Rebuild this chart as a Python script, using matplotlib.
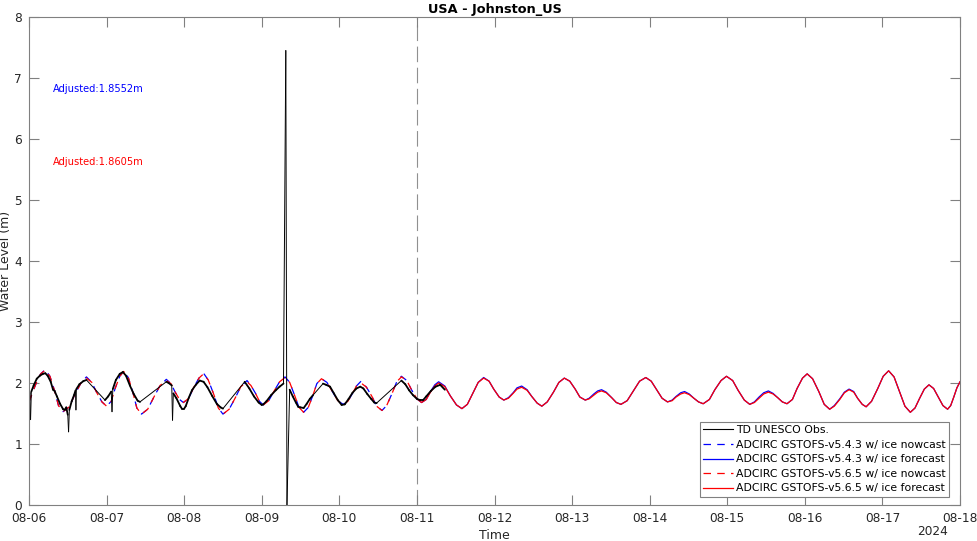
import numpy as np
import matplotlib.pyplot as plt
import matplotlib.dates as mdates

# days since 2024-08-06 00:00
start = np.datetime64("2024-08-06T00:00")

# TD UNESCO observations
obs_t = [0.00, 0.01, 0.02, 0.03, 0.06, 0.10, 0.14, 0.18, 0.21, 0.24,
         0.28, 0.31, 0.33, 0.36, 0.40, 0.44, 0.46, 0.48, 0.50, 0.51,
         0.52, 0.55, 0.58, 0.60, 0.605, 0.61, 0.65, 0.70, 0.74, 0.98,
         1.02, 1.06, 1.07, 1.08, 1.12, 1.17, 1.21, 1.25, 1.30, 1.35,
         1.40, 1.43, 1.77, 1.80, 1.84, 1.85, 1.86, 1.90, 1.95, 1.97,
         2.00, 2.02, 2.06, 2.10, 2.15, 2.20, 2.25, 2.30, 2.36, 2.42,
         2.47, 2.50, 2.78, 2.84, 2.90, 2.96, 3.00, 3.02, 3.06, 3.12,
         3.18, 3.23, 3.28, 3.31, 3.325, 3.36, 3.40, 3.44, 3.47, 3.50,
         3.54, 3.58, 3.62, 3.66, 3.79, 3.83, 3.88, 3.93, 3.98, 4.03,
         4.07, 4.12, 4.17, 4.22, 4.27, 4.31, 4.36, 4.41, 4.45, 4.48,
         4.80, 4.85, 4.90, 4.95, 5.00, 5.04, 5.08, 5.12, 5.18, 5.24,
         5.30, 5.36]
obs_v = [1.72, 1.84, 1.40, 1.86, 1.96, 2.07, 2.12, 2.15, 2.16, 2.12,
         2.02, 1.89, 1.87, 1.78, 1.66, 1.57, 1.56, 1.60, 1.48, 1.20,
         1.56, 1.70, 1.80, 1.88, 1.56, 1.90, 1.98, 2.03, 2.05, 1.72,
         1.78, 1.86, 1.53, 1.90, 2.05, 2.15, 2.18, 2.12, 1.96, 1.82,
         1.71, 1.69, 2.02, 2.00, 1.96, 1.39, 1.83, 1.75, 1.62, 1.58,
         1.58, 1.62, 1.76, 1.88, 1.97, 2.04, 2.02, 1.93, 1.79, 1.66,
         1.60, 1.58, 2.02, 1.91, 1.78, 1.68, 1.64, 1.65, 1.70, 1.80,
         1.88, 1.94, 1.99, 7.45, 0.00, 1.89, 1.78, 1.68, 1.61, 1.60,
         1.59, 1.66, 1.74, 1.80, 1.99, 1.97, 1.94, 1.83, 1.72, 1.64,
         1.65, 1.74, 1.84, 1.91, 1.94, 1.91, 1.82, 1.74, 1.68, 1.67,
         2.04, 1.98, 1.88, 1.80, 1.74, 1.72, 1.72, 1.78, 1.87, 1.94,
         1.97, 1.89]

# nowcast period
now_t = [0.00, 0.05, 0.10, 0.15, 0.21, 0.27, 0.33, 0.38, 0.44, 0.52,
         0.59, 0.67, 0.74, 0.81, 0.87, 0.94, 1.00, 1.06, 1.11, 1.17,
         1.22, 1.28, 1.34, 1.39, 1.45, 1.53, 1.61, 1.69, 1.77, 1.83,
         1.88, 1.94, 1.99, 2.06, 2.12, 2.19, 2.25, 2.31, 2.38, 2.44,
         2.50, 2.58, 2.66, 2.73, 2.81, 2.86, 2.92, 2.97, 3.02, 3.09,
         3.16, 3.23, 3.30, 3.36, 3.42, 3.48, 3.54, 3.60, 3.66, 3.71,
         3.77, 3.84, 3.91, 3.98, 4.05, 4.11, 4.17, 4.22, 4.28, 4.35,
         4.42, 4.48, 4.55, 4.61, 4.68, 4.74, 4.80, 4.87, 4.93, 5.00]
now_v565 = [1.69, 1.86, 2.02, 2.15, 2.21, 2.11, 1.87, 1.63, 1.53, 1.61,
            1.81, 2.00, 2.08, 2.01, 1.85, 1.69, 1.62, 1.70, 1.91, 2.11,
            2.19, 2.09, 1.84, 1.59, 1.49, 1.57, 1.77, 1.96, 2.04, 1.99,
            1.86, 1.73, 1.68, 1.75, 1.92, 2.08, 2.15, 2.05, 1.82, 1.59,
            1.49, 1.57, 1.76, 1.94, 2.02, 1.96, 1.83, 1.70, 1.64, 1.71,
            1.87, 2.02, 2.09, 2.01, 1.81, 1.60, 1.52, 1.60, 1.80, 1.99,
            2.07, 2.01, 1.86, 1.71, 1.65, 1.70, 1.83, 1.95, 2.00, 1.93,
            1.78, 1.62, 1.55, 1.63, 1.83, 2.02, 2.10, 2.04, 1.89, 1.74]
now_v543 = [1.69, 1.86, 2.02, 2.15, 2.22, 2.11, 1.87, 1.63, 1.53, 1.61,
            1.81, 2.00, 2.10, 2.01, 1.85, 1.69, 1.62, 1.70, 1.91, 2.11,
            2.19, 2.09, 1.84, 1.59, 1.49, 1.57, 1.77, 1.96, 2.06, 1.99,
            1.86, 1.73, 1.68, 1.75, 1.92, 2.08, 2.16, 2.05, 1.82, 1.59,
            1.49, 1.57, 1.76, 1.94, 2.04, 1.96, 1.83, 1.70, 1.64, 1.71,
            1.87, 2.02, 2.10, 2.01, 1.81, 1.60, 1.52, 1.60, 1.80, 1.99,
            2.07, 2.01, 1.86, 1.71, 1.65, 1.70, 1.83, 1.95, 2.03, 1.93,
            1.78, 1.62, 1.55, 1.63, 1.83, 2.02, 2.11, 2.04, 1.89, 1.74]

# forecast period
fc_t = [5.00, 5.06, 5.12, 5.17, 5.23, 5.28, 5.36, 5.43, 5.51, 5.58,
        5.65, 5.72, 5.79, 5.86, 5.93, 5.99, 6.06, 6.12, 6.18, 6.24,
        6.29, 6.35, 6.42, 6.48, 6.55, 6.61, 6.68, 6.76, 6.83, 6.90,
        6.97, 7.04, 7.10, 7.17, 7.22, 7.28, 7.33, 7.38, 7.44, 7.51,
        7.57, 7.63, 7.71, 7.79, 7.87, 7.95, 8.02, 8.09, 8.16, 8.23,
        8.29, 8.34, 8.40, 8.45, 8.51, 8.57, 8.63, 8.69, 8.77, 8.84,
        8.92, 8.99, 9.07, 9.14, 9.22, 9.29, 9.35, 9.41, 9.47, 9.53,
        9.59, 9.65, 9.71, 9.77, 9.84, 9.90, 9.97, 10.03, 10.10, 10.18,
        10.25, 10.32, 10.38, 10.45, 10.51, 10.57, 10.63, 10.68, 10.74, 10.79,
        10.86, 10.94, 11.01, 11.08, 11.15, 11.22, 11.29, 11.36, 11.42, 11.48,
        11.54, 11.60, 11.66, 11.72, 11.78, 11.84, 11.88, 11.92, 11.96, 12.00]
fc_v565 = [1.74, 1.68, 1.73, 1.84, 1.95, 2.00, 1.94, 1.79, 1.64, 1.58,
           1.65, 1.83, 2.01, 2.08, 2.03, 1.90, 1.77, 1.72, 1.75, 1.83,
           1.90, 1.93, 1.88, 1.78, 1.67, 1.62, 1.69, 1.85, 2.01, 2.08,
           2.03, 1.90, 1.77, 1.72, 1.74, 1.80, 1.85, 1.87, 1.84, 1.76,
           1.68, 1.65, 1.71, 1.87, 2.03, 2.09, 2.03, 1.89, 1.75, 1.69,
           1.71, 1.77, 1.82, 1.84, 1.81, 1.75, 1.69, 1.66, 1.73, 1.89,
           2.04, 2.11, 2.04, 1.88, 1.72, 1.65, 1.68, 1.75, 1.82, 1.85,
           1.82, 1.76, 1.69, 1.66, 1.73, 1.91, 2.08, 2.15, 2.07, 1.86,
           1.65, 1.57, 1.62, 1.73, 1.84, 1.89, 1.85, 1.75, 1.65, 1.61,
           1.70, 1.91, 2.11, 2.20, 2.10, 1.86, 1.62, 1.52, 1.59, 1.75,
           1.90, 1.97, 1.91, 1.77, 1.63, 1.57, 1.63, 1.77, 1.92, 2.02]
fc_v543 = [1.74, 1.68, 1.73, 1.85, 1.97, 2.02, 1.95, 1.79, 1.64, 1.58,
           1.65, 1.83, 2.01, 2.09, 2.03, 1.90, 1.77, 1.72, 1.76, 1.84,
           1.92, 1.95, 1.89, 1.78, 1.67, 1.62, 1.69, 1.85, 2.01, 2.08,
           2.03, 1.90, 1.77, 1.72, 1.75, 1.82, 1.87, 1.89, 1.85, 1.76,
           1.68, 1.65, 1.71, 1.87, 2.03, 2.09, 2.03, 1.89, 1.75, 1.69,
           1.72, 1.78, 1.84, 1.86, 1.82, 1.75, 1.69, 1.66, 1.73, 1.89,
           2.04, 2.11, 2.04, 1.88, 1.72, 1.65, 1.69, 1.77, 1.84, 1.87,
           1.83, 1.76, 1.69, 1.66, 1.73, 1.91, 2.08, 2.15, 2.07, 1.86,
           1.65, 1.57, 1.63, 1.74, 1.85, 1.90, 1.86, 1.75, 1.65, 1.61,
           1.70, 1.91, 2.11, 2.20, 2.10, 1.86, 1.62, 1.52, 1.59, 1.75,
           1.90, 1.97, 1.91, 1.77, 1.63, 1.57, 1.63, 1.77, 1.92, 2.02]

labels = ["TD UNESCO Obs.",
          "ADCIRC GSTOFS-v5.4.3 w/ ice nowcast",
          "ADCIRC GSTOFS-v5.4.3 w/ ice forecast",
          "ADCIRC GSTOFS-v5.6.5 w/ ice nowcast",
          "ADCIRC GSTOFS-v5.6.5 w/ ice forecast"]
adjusted = ["Adjusted:1.8552m", "Adjusted:1.8605m"]
tick_days = list(range(13))
tick_labels = ["08-06", "08-07", "08-08", "08-09", "08-10", "08-11", "08-12",
               "08-13", "08-14", "08-15", "08-16", "08-17", "08-18"]


def to_dates(days):
    secs = (np.asarray(days) * 86400).round().astype("timedelta64[s]")
    return mdates.date2num(start + secs)


fig = plt.figure(figsize=(9.77, 5.41), dpi=100)
ax = fig.add_axes([29 / 977, 36 / 541, 931 / 977, 488 / 541])

dash = (6, 5)
l1, = ax.plot(to_dates(now_t), now_v543, color="blue", lw=0.9, dashes=dash)
l2, = ax.plot(to_dates(fc_t), fc_v543, color="blue", lw=0.9)
l3, = ax.plot(to_dates(now_t), now_v565, color="red", lw=0.9, dashes=dash)
l4, = ax.plot(to_dates(fc_t), fc_v565, color="red", lw=0.9)

# observations: record drawn thick, gaps and spikes as thin straight lines
ot = to_dates(obs_t)
ov = np.asarray(obs_v)
thin = (np.diff(obs_t) > 0.1) | (np.abs(np.diff(obs_v)) > 0.25)
for i in range(len(ot) - 1):
    ax.plot(ot[i:i + 2], ov[i:i + 2], color="black",
            lw=0.7 if thin[i] else 1.3, solid_capstyle="round")
l0, = ax.plot([], [], color="black", lw=0.8)

# nowcast / forecast split
split = to_dates([5.0])[0]
ax.axvline(split, color="#909090", lw=0.8, dashes=(14, 5), zorder=0)

ax.text(to_dates([0.31])[0], 6.82, adjusted[0], color="blue", fontsize=7.1, va="center")
ax.text(to_dates([0.31])[0], 5.62, adjusted[1], color="red", fontsize=7.1, va="center")

ax.set_xlim(to_dates([0])[0], to_dates([12])[0])
ax.set_ylim(0, 8)
ax.set_xticks(to_dates(tick_days))
ax.set_xticklabels(tick_labels)
ax.set_yticks(range(9))

for s in ax.spines.values():
    s.set_color("#808080")
    s.set_linewidth(0.8)
ax.tick_params(direction="in", length=7, width=0.8, color="#808080",
               labelcolor="#262626", labelsize=8.7, top=True, right=True, pad=5)

ax.set_title("USA - Johnston_US", fontsize=9.3, fontweight="bold", pad=3)
ax.set_xlabel("Time", fontsize=9, color="#262626", labelpad=3)
ax.set_ylabel("Water Level (m)", fontsize=9, color="#262626", labelpad=2)
ax.text(0.97, -0.055, "2024", transform=ax.transAxes, ha="center", va="center",
        fontsize=8.7, color="#262626")

leg = ax.legend([l0, l1, l2, l3, l4], labels, loc="lower right",
                bbox_to_anchor=(0.988, 0.017), borderaxespad=0, fontsize=7.8,
                fancybox=False, framealpha=1, edgecolor="#808080",
                handlelength=2.8, labelspacing=0.42, borderpad=0.3,
                handletextpad=0.25)
leg.get_frame().set_linewidth(0.8)

plt.savefig("out.png", dpi=100)
